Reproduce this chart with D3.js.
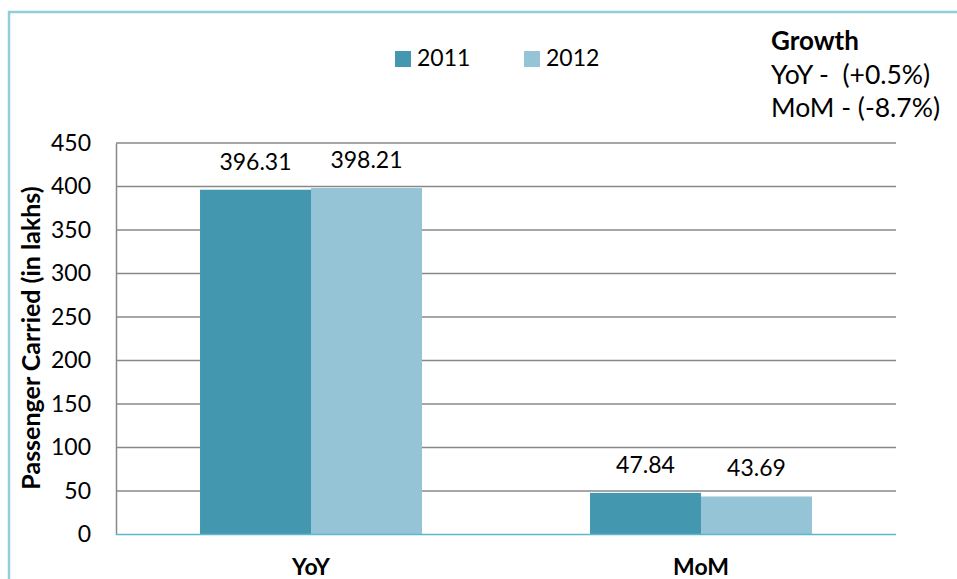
<!DOCTYPE html>
<html>
<head>
<meta charset="utf-8">
<script src="https://cdn.jsdelivr.net/npm/d3@7"></script>
<style>
  body { margin: 0; background: #fff; }
  svg { font-family: Lato, "Open Sans", sans-serif; }
</style>
</head>
<body>
<div id="chart"></div>
<script>
var categories = ["YoY", "MoM"];
var seriesNames = ["2011", "2012"];
var values2011 = [396.31, 47.84];
var values2012 = [398.21, 43.69];
var yTicks = [0, 50, 100, 150, 200, 250, 300, 350, 400, 450];
var growthLines = ["YoY -  (+0.5%)", "MoM - (-8.7%)"];

var colores = ["#4398b0", "#94c4d5"];

var width = 957, height = 579;
var plotLeft = 116, plotRight = 896, plotTop = 143, plotBottom = 534.5;

var svg = d3.select("#chart").append("svg")
  .attr("width", width)
  .attr("height", height);

// marco
svg.append("path")
  .attr("d", "M9,579 V12 H957")
  .attr("fill", "none")
  .attr("stroke", "#92cddc")
  .attr("stroke-width", 2.5);

var yScale = d3.scaleLinear().domain([0, 450]).range([plotBottom, plotTop]);
var xScale = d3.scaleBand().domain(categories).range([plotLeft, plotRight]);
var xInner = d3.scaleBand().domain(seriesNames)
  .range([0, xScale.bandwidth()]).paddingOuter(0.757).paddingInner(0);

// lineas de cuadricula
svg.append("g")
  .selectAll("line")
  .data(yTicks.slice(1))
  .enter()
  .append("line")
  .attr("x1", plotLeft)
  .attr("x2", plotRight)
  .attr("y1", d => yScale(d))
  .attr("y2", d => yScale(d))
  .attr("stroke", "#888")
  .attr("stroke-width", 1.5);

var yAxis = d3.axisLeft(yScale).tickValues(yTicks).tickSize(0).tickPadding(25);
var gy = svg.append("g")
  .attr("transform", "translate(" + plotLeft + ",0)")
  .call(yAxis);
gy.select(".domain").attr("stroke", "#888").attr("stroke-width", 1.5);
gy.selectAll("text").attr("font-size", 23).attr("fill", "#000")
  .attr("font-family", "Lato, sans-serif");

var series = [values2011, values2012];
var grupos = svg.append("g")
  .selectAll("g")
  .data(categories)
  .enter()
  .append("g")
  .attr("transform", d => "translate(" + xScale(d) + ",0)");

grupos.selectAll("rect")
  .data((c, i) => seriesNames.map((s, j) => ({ s: s, v: series[j][i], j: j })))
  .enter()
  .append("rect")
  .attr("x", d => xInner(d.s))
  .attr("y", d => yScale(d.v))
  .attr("width", xInner.bandwidth())
  .attr("height", d => plotBottom - yScale(d.v))
  .attr("fill", d => colores[d.j]);

grupos.selectAll("text.valor")
  .data((c, i) => seriesNames.map((s, j) => ({ s: s, v: series[j][i], j: j })))
  .enter()
  .append("text")
  .attr("class", "valor")
  .attr("x", d => xInner(d.s) + xInner.bandwidth() / 2)
  .attr("y", d => yScale(d.v) - 20)
  .attr("text-anchor", "middle")
  .attr("font-size", 23)
  .text(d => d.v.toFixed(2));

// eje x
svg.append("line")
  .attr("x1", plotLeft).attr("x2", plotRight)
  .attr("y1", plotBottom).attr("y2", plotBottom)
  .attr("stroke", "#5db6cf")
  .attr("stroke-width", 1.5);

var xAxis = d3.axisBottom(xScale).tickSize(0).tickPadding(24);
var gx = svg.append("g")
  .attr("transform", "translate(0," + plotBottom + ")")
  .call(xAxis);
gx.select(".domain").remove();
gx.selectAll("text").attr("font-size", 23).attr("font-weight", "bold").attr("fill", "#000")
  .attr("font-family", "Lato, sans-serif");

// titulo eje y
svg.append("text")
  .attr("transform", "translate(40,338) rotate(-90)")
  .attr("text-anchor", "middle")
  .attr("font-size", 25)
  .attr("font-weight", "bold")
  .text("Passenger Carried (in lakhs)");

// leyenda
var leyenda = svg.append("g")
  .selectAll("g")
  .data(seriesNames)
  .enter()
  .append("g")
  .attr("transform", (d, i) => "translate(" + (395 + i * 129) + ",51)");
leyenda.append("rect")
  .attr("width", 16).attr("height", 16)
  .attr("fill", (d, i) => colores[i]);
leyenda.append("text")
  .attr("x", 22).attr("y", 15)
  .attr("font-size", 23)
  .text(d => d);

// cuadro de crecimiento
svg.append("text")
  .attr("x", 771).attr("y", 50)
  .attr("font-size", 26)
  .attr("font-weight", "bold")
  .text("Growth");
svg.append("g")
  .selectAll("text")
  .data(growthLines)
  .enter()
  .append("text")
  .attr("x", 771)
  .attr("y", (d, i) => 84 + i * 33)
  .attr("font-size", 26.5)
  .style("white-space", "pre")
  .text(d => d);
</script>
</body>
</html>
